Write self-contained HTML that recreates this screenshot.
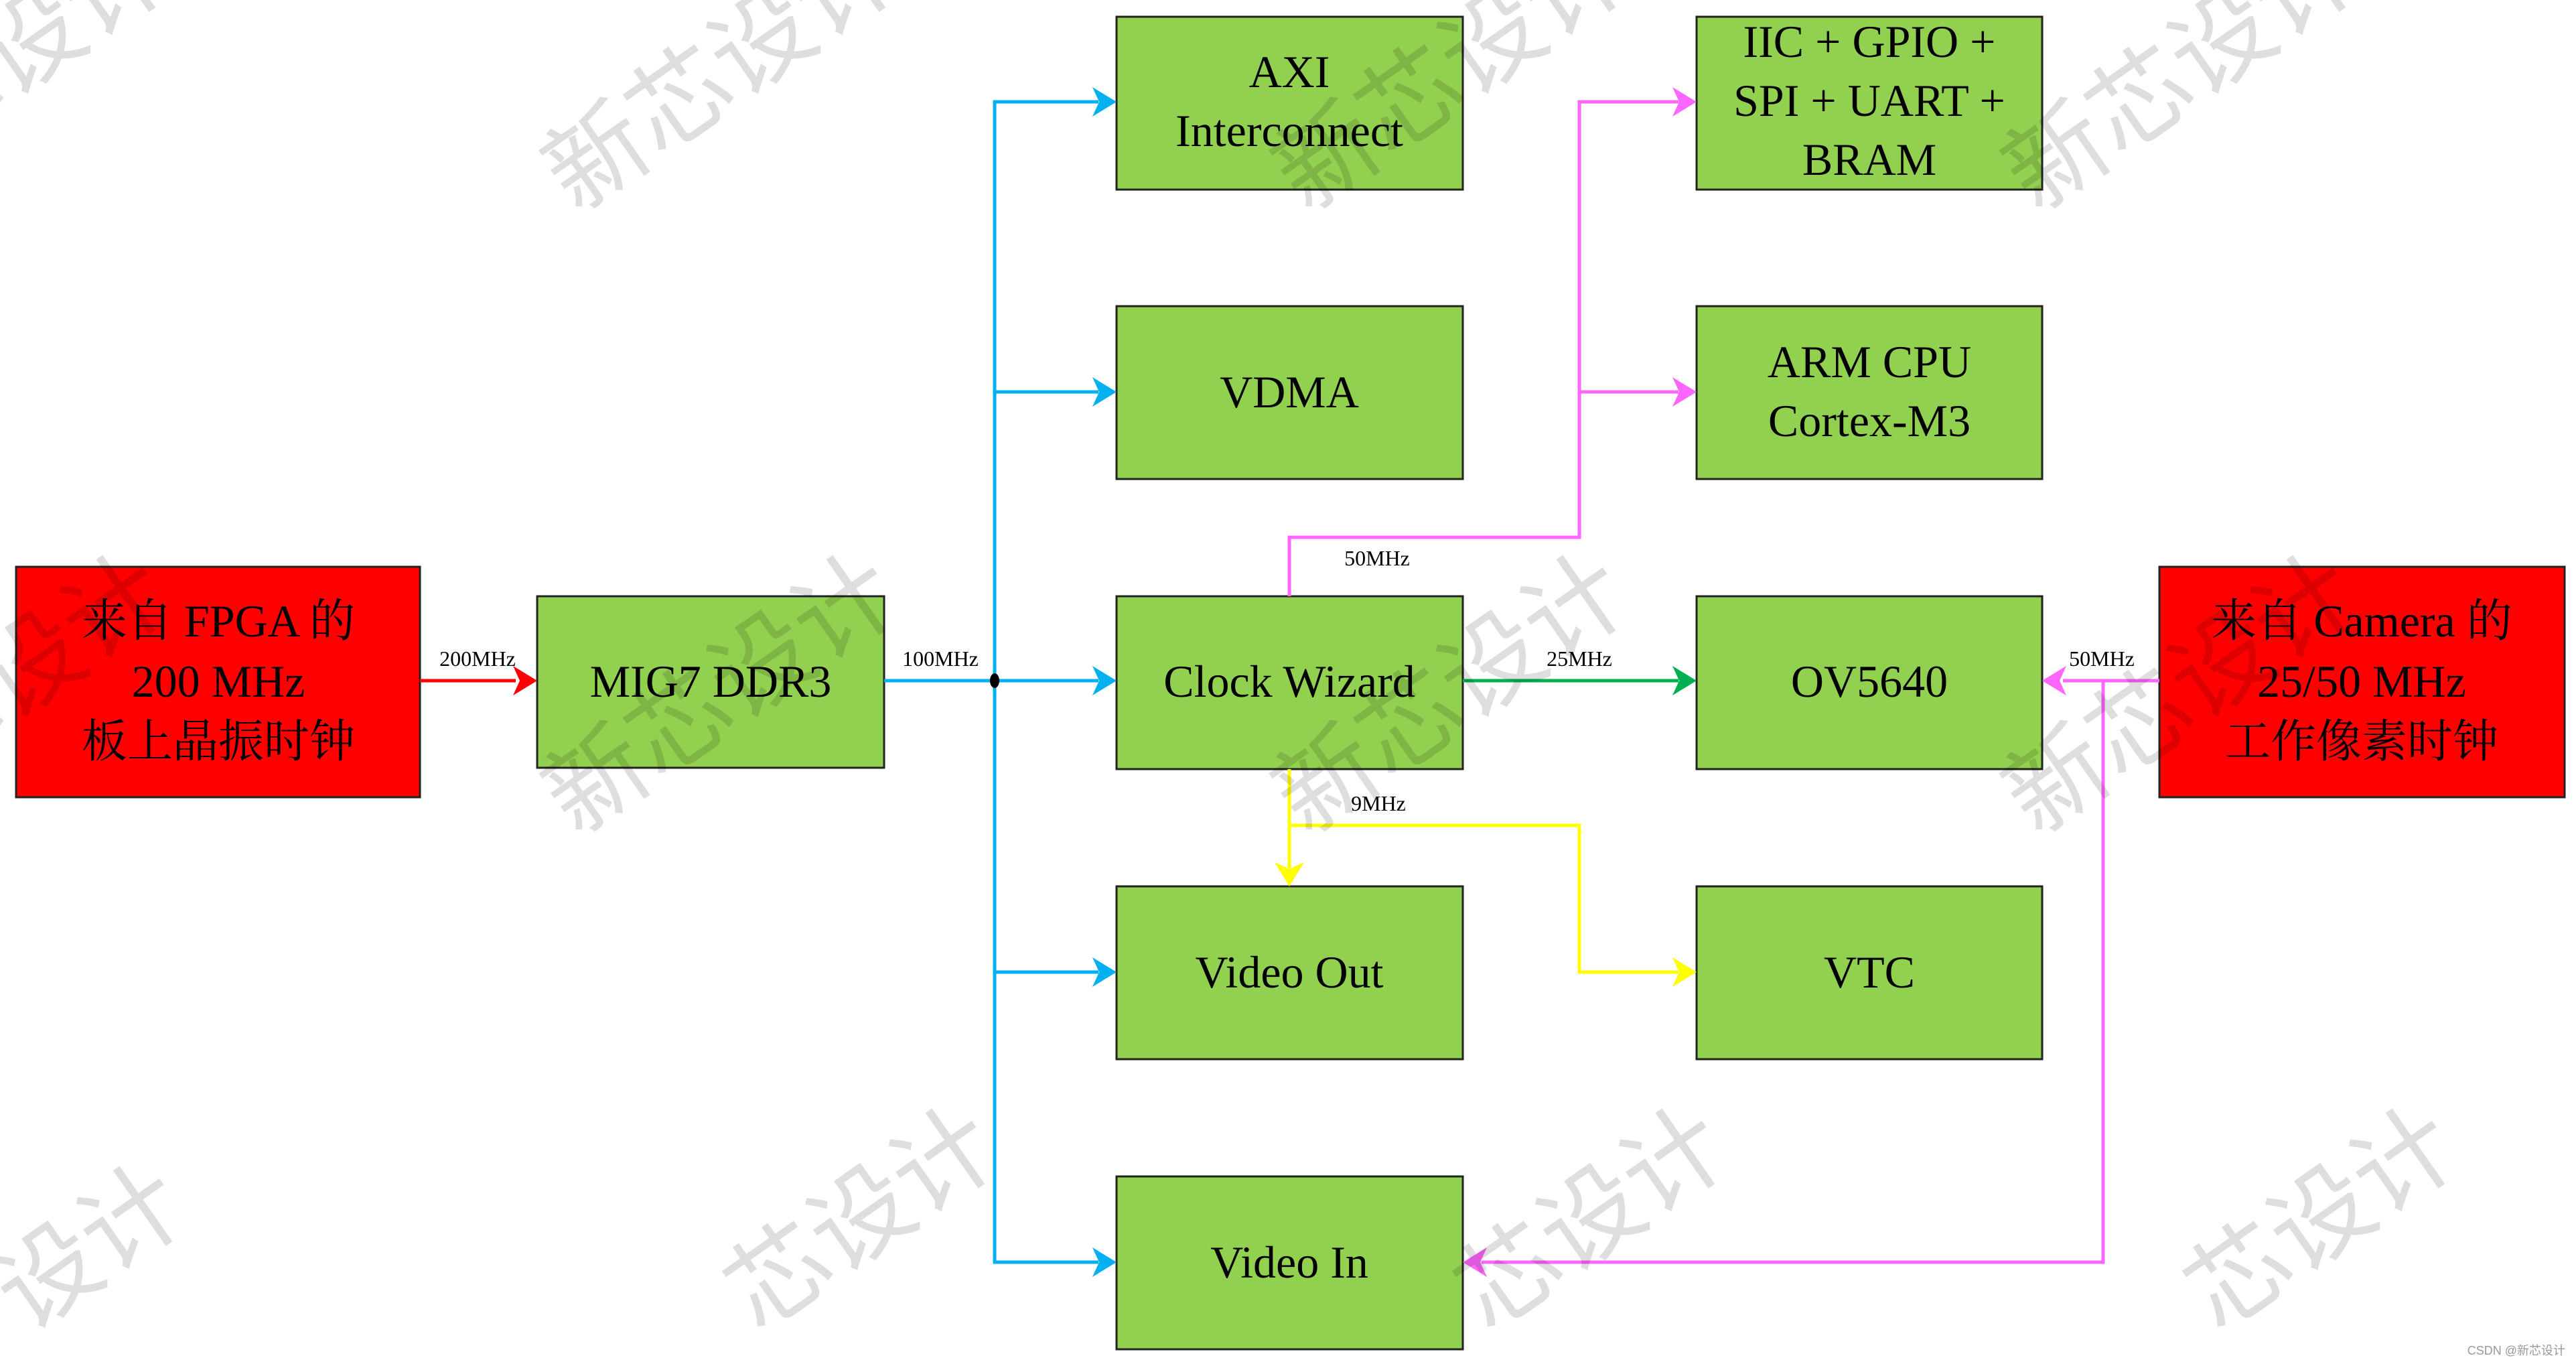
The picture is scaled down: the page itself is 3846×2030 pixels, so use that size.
<!DOCTYPE html>
<html><head><meta charset="utf-8"><style>
html,body{margin:0;padding:0;background:#fff;overflow:hidden;width:3846px;height:2030px;}
svg{display:block}
.b{fill:#92d050;stroke:#222;stroke-width:3}
.r{fill:#ff0000;stroke:#222;stroke-width:3}
.t{font-family:"Liberation Serif","Noto Serif CJK SC",serif;font-size:68px;fill:#000;text-anchor:middle}
.l{font-family:"Liberation Serif",serif;font-size:32px;fill:#000;text-anchor:middle}
.w{font-family:"Noto Sans CJK SC","WenQuanYi Zen Hei",sans-serif;font-size:150px;fill:rgba(0,0,0,0.13)}
</style></head><body>
<svg width="3846" height="2030" viewBox="0 0 3846 2030" xmlns="http://www.w3.org/2000/svg">
<rect class="r" x="24" y="846" width="603" height="344"/>
<rect class="b" x="802" y="890" width="518" height="256"/>
<rect class="b" x="1667" y="25" width="517" height="258"/>
<rect class="b" x="1667" y="457" width="517" height="258"/>
<rect class="b" x="1667" y="890" width="517" height="258"/>
<rect class="b" x="1667" y="1323" width="517" height="258"/>
<rect class="b" x="1667" y="1756" width="517" height="258"/>
<rect class="b" x="2533" y="25" width="516" height="258"/>
<rect class="b" x="2533" y="457" width="516" height="258"/>
<rect class="b" x="2533" y="890" width="516" height="258"/>
<rect class="b" x="2533" y="1323" width="516" height="258"/>
<rect class="r" x="3224" y="846" width="605" height="344"/>

<line x1="627" y1="1016" x2="770" y2="1016" stroke="#ff0000" stroke-width="5"/>
<polygon points="802,1016 766,994 776,1016 766,1038" fill="#ff0000"/>
<g stroke="#00b0f0" stroke-width="5" fill="none">
<line x1="1320" y1="1016" x2="1640" y2="1016"/>
<polyline points="1640,152 1485,152 1485,1884 1640,1884"/>
<line x1="1485" y1="585" x2="1640" y2="585"/>
<line x1="1485" y1="1451" x2="1640" y2="1451"/>
</g>
<g fill="#00b0f0">
<polygon points="1667,152 1631,130 1641,152 1631,174"/>
<polygon points="1667,585 1631,563 1641,585 1631,607"/>
<polygon points="1667,1016 1631,994 1641,1016 1631,1038"/>
<polygon points="1667,1451 1631,1429 1641,1451 1631,1473"/>
<polygon points="1667,1884 1631,1862 1641,1884 1631,1906"/>
</g>
<ellipse cx="1485" cy="1016" rx="7" ry="11" fill="#000"/>
<g stroke="#ff66ff" stroke-width="5" fill="none">
<polyline points="1925,890 1925,802 2358,802 2358,152 2506,152"/>
<line x1="2358" y1="585" x2="2506" y2="585"/>
<polyline points="3224,1016 3080,1016"/>
<polyline points="3140,1016 3140,1884 2212,1884"/>
</g>
<g fill="#ff66ff">
<polygon points="2533,152 2497,130 2507,152 2497,174"/>
<polygon points="2533,585 2497,563 2507,585 2497,607"/>
<polygon points="3049,1016 3085,994 3075,1016 3085,1038"/>
<polygon points="2184,1884 2220,1862 2210,1884 2220,1906"/>
</g>
<line x1="2184" y1="1016" x2="2506" y2="1016" stroke="#00b050" stroke-width="5"/>
<polygon points="2533,1016 2497,994 2507,1016 2497,1038" fill="#00b050"/>
<g stroke="#ffff00" stroke-width="5" fill="none">
<line x1="1925" y1="1148" x2="1925" y2="1296"/>
<polyline points="1925,1232 2358,1232 2358,1451 2506,1451"/>
</g>
<g fill="#ffff00">
<polygon points="1925,1323 1903,1287 1925,1297 1947,1287"/>
<polygon points="2533,1451 2497,1429 2507,1451 2497,1473"/>
</g>

<text class="l" x="713" y="994">200MHz</text>
<text class="l" x="1404" y="994">100MHz</text>
<text class="l" x="2056" y="844">50MHz</text>
<text class="l" x="2358" y="994">25MHz</text>
<text class="l" x="2058" y="1210">9MHz</text>
<text class="l" x="3138" y="994">50MHz</text>

<text class="t" x="326" y="950">来自 FPGA 的</text>
<text class="t" x="326" y="1040">200 MHz</text>
<text class="t" x="326" y="1130">板上晶振时钟</text>
<text class="t" x="1061" y="1040">MIG7 DDR3</text>
<text class="t" x="1925" y="130">AXI</text>
<text class="t" x="1925" y="218">Interconnect</text>
<text class="t" x="1925" y="608">VDMA</text>
<text class="t" x="1925" y="1040">Clock Wizard</text>
<text class="t" x="1925" y="1474">Video Out</text>
<text class="t" x="1925" y="1907">Video In</text>
<text class="t" x="2791" y="85">IIC + GPIO +</text>
<text class="t" x="2791" y="173">SPI + UART +</text>
<text class="t" x="2791" y="261">BRAM</text>
<text class="t" x="2791" y="563">ARM CPU</text>
<text class="t" x="2791" y="651">Cortex-M3</text>
<text class="t" x="2791" y="1040">OV5640</text>
<text class="t" x="2791" y="1474">VTC</text>
<text class="t" x="3526" y="950">来自 Camera 的</text>
<text class="t" x="3526" y="1040">25/50 MHz</text>
<text class="t" x="3526" y="1130">工作像素时钟</text>

<g class="w">
<text transform="translate(860,320) rotate(-35)">新芯设计</text>
<text transform="translate(1950,320) rotate(-35)">新芯设计</text>
<text transform="translate(3040,320) rotate(-35)">新芯设计</text>
<text transform="translate(-230,1250) rotate(-35)">新芯设计</text>
<text transform="translate(860,1250) rotate(-35)">新芯设计</text>
<text transform="translate(1950,1250) rotate(-35)">新芯设计</text>
<text transform="translate(3040,1250) rotate(-35)">新芯设计</text>
<text transform="translate(41,1990) rotate(-35)">设计</text>
<text transform="translate(1131,1990) rotate(-35)">芯设计</text>
<text transform="translate(2221,1990) rotate(-35)">芯设计</text>
<text transform="translate(3311,1990) rotate(-35)">芯设计</text>
<text transform="translate(-230,320) rotate(-35)">新芯设计</text>
</g>
<text x="3830" y="2022" text-anchor="end" font-family="Liberation Sans,sans-serif" font-size="18" fill="#999">CSDN @新芯设计</text>
</svg>
</body></html>
